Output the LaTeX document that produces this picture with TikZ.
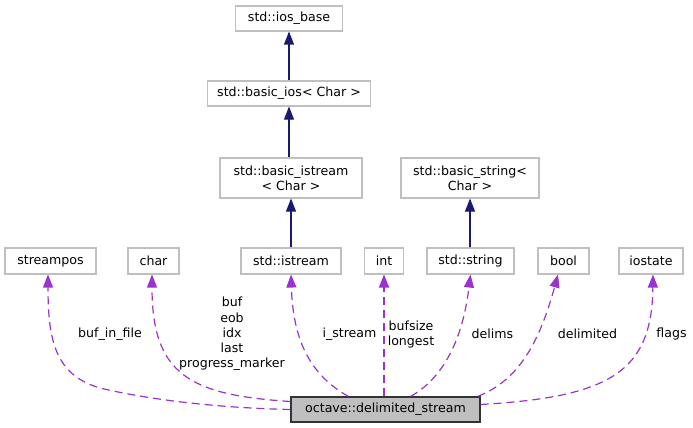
\documentclass[tikz,border=0pt]{standalone}
\usepackage{fontspec}
\setmainfont{DejaVu Sans}
\usetikzlibrary{arrows.meta}
\definecolor{orch}{HTML}{9A32CD}
\definecolor{navyb}{HTML}{191970}
\definecolor{grey75}{HTML}{BFBFBF}
\begin{document}
\begin{tikzpicture}[x=1pt,y=-1pt,
  font=\fontsize{12.6}{15.3}\selectfont,
  box/.style={draw=grey75,fill=white,line width=1.1pt,inner sep=0pt,align=center},
  mainbox/.style={draw=black!80,fill=grey75,line width=1.1pt,inner sep=0pt},
  inh/.style={draw=navyb,line width=1.1pt,-{Triangle[length=13pt,width=10pt]}},
  use/.style={draw=orch,color=orch,line width=1.2pt,dash pattern=on 8pt off 5pt,-{Triangle[length=13pt,width=10pt]}},
  lbl/.style={inner sep=0pt,align=center}]
\useasboundingbox (0,0) rectangle (693,428);
% nodes
\node[box,minimum width=107pt,minimum height=25pt] (iosbase) at (289,18.5) {std::ios\_base};
\node[box,minimum width=163pt,minimum height=25pt] (basicios) at (289,93.5) {std::basic\_ios< Char >};
\node[box,minimum width=142pt,minimum height=40pt] (basicistream) at (291,178) {std::basic\_istream\\< Char >};
\node[box,minimum width=138pt,minimum height=40pt] (basicstring) at (470,178) {std::basic\_string<\\Char >};
\node[box,minimum width=91pt,minimum height=26pt] (streampos) at (50.5,261) {streampos};
\node[box,minimum width=51pt,minimum height=26pt] (char) at (153.5,261) {char};
\node[box,minimum width=100pt,minimum height=26pt] (istream) at (291,261) {std::istream};
\node[box,minimum width=39pt,minimum height=26pt] (int) at (384,261) {int};
\node[box,minimum width=87pt,minimum height=26pt] (string) at (470.5,261) {std::string};
\node[box,minimum width=51pt,minimum height=26pt] (bool) at (563.5,261) {bool};
\node[box,minimum width=64pt,minimum height=26pt] (iostate) at (651,261) {iostate};
\node[mainbox,minimum width=189pt,minimum height=25pt] (ds) at (385.5,409.5) {octave::delimited\_stream};
% inheritance
\draw[inh] (basicios) -- (iosbase);
\draw[inh] (basicistream.north -| basicios.south) -- (basicios);
\draw[inh] (istream) -- (basicistream);
\draw[inh] (string.north -| basicstring.south) -- (basicstring);
% usage
\draw[use] (ds.west) .. controls (220,408) and (150,400) .. (100,388) .. controls (55,375) and (48,340) .. ([xshift=-2.5pt]streampos.south);
\draw[use] ([yshift=8pt]ds.west) .. controls (190,395) and (152,375) .. ([xshift=-1.5pt]char.south);
\draw[use] ([xshift=-37pt]ds.north) .. controls (310,375) and (293,340) .. (istream.south);
\draw[use] (int.south |- ds.north) -- (int.south);
\draw[use] ([xshift=25pt]ds.north) .. controls (440,380) and (462,345) .. (string.south);
\draw[use] ([xshift=-3pt]ds.north east) .. controls (520,380) and (540,340) .. ([xshift=-5.5pt]bool.south);
\draw[use] ([yshift=5pt]ds.east) .. controls (610,397) and (652,372) .. ([xshift=2pt]iostate.south);
% labels
\node[lbl] (l1) at (110,334) {buf\_in\_file};
\node[lbl] (l2) at (232,334) {buf\\eob\\idx\\last\\progress\_marker};
\node[lbl] (l3) at (349.5,334) {i\_stream};
\node[lbl] (l4) at (411,334.5) {bufsize\\longest};
\node[lbl] (l5) at (492.5,334) {delims};
\node[lbl] (l6) at (587.5,334) {delimited};
\node[lbl] (l7) at (671.5,334) {flags};
\end{tikzpicture}
\end{document}
